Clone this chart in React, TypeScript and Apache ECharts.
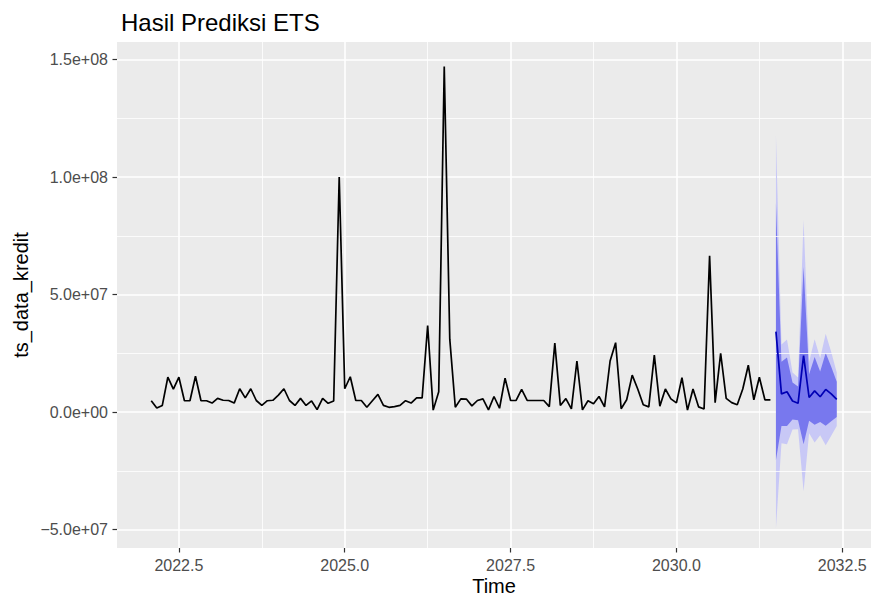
import React, { useEffect, useRef } from "react";
import * as echarts from "echarts";

// ---------- data ----------
const START_YEAR = 2022;
const START_MONTH = 2; // Feb 2022
const UNIT = 1e6; // values below are in millions

const histValues: number[] = [
  4.8, 1.7, 2.8, 14.8, 9.7, 14.8, 4.8, 4.8, 15.2, 4.8, 4.8, 3.8,
  5.8, 5.0, 4.9, 3.8, 9.9, 6.0, 9.9, 4.9, 2.8, 4.8, 5.0, 7.2,
  9.9, 4.9, 2.8, 5.8, 2.8, 4.7, 1.0, 5.8, 3.7, 4.7, 100.0, 9.9,
  15.0, 4.9, 4.9, 2.0, 4.8, 7.5, 2.8, 2.0, 2.3, 2.8, 4.8, 3.8,
  6.0, 6.0, 36.8, 0.8, 8.6, 147.0, 31.0, 2.0, 5.6, 5.5, 2.6, 4.9,
  5.6, 0.9, 6.6, 1.6, 14.4, 4.9, 4.9, 9.6, 4.9, 4.9, 4.9, 4.9,
  2.3, 29.3, 2.8, 5.7, 1.3, 21.7, 0.9, 4.8, 3.5, 6.6, 2.2, 21.7,
  29.5, 1.4, 5.2, 15.7, 9.8, 3.1, 2.2, 24.2, 2.5, 9.8, 5.6, 3.9,
  14.6, 0.8, 9.8, 2.2, 1.3, 66.5, 4.0, 25.0, 5.8, 4.0, 3.1, 9.8,
  19.9, 5.2, 14.8, 5.2, 5.2,
];

const fcMean: number[] = [34.2, 7.7, 8.6, 4.7, 3.7, 24.0, 6.2, 9.0, 6.5, 9.6, 7.7, 5.4];
const fcHi95: number[] = [117.9, 28.7, 30.9, 16.8, 14.7, 81.7, 21.4, 31.0, 22.9, 33.3, 25.5, 16.8];
const fcLo95: number[] = [-49.5, -13.3, -13.7, -7.4, -7.3, -33.7, -9.0, -13.0, -9.9, -14.1, -10.1, -6.0];
const fcHi80: number[] = [88.9, 21.4, 23.2, 12.6, 10.9, 61.7, 16.1, 23.4, 17.2, 25.1, 19.3, 12.9];
const fcLo80: number[] = [-20.5, -6.0, -6.0, -3.2, -3.5, -13.7, -3.7, -5.4, -4.2, -5.9, -3.9, -2.1];

const xTicks: number[] = [2022.5, 2025.0, 2027.5, 2030.0, 2032.5];
const xMinorTicks: number[] = [2023.75, 2026.25, 2028.75, 2031.25];
const yTicks: number[] = [-5e7, 0, 5e7, 1e8, 1.5e8];
const yMinorTicks: number[] = [-2.5e7, 2.5e7, 7.5e7, 1.25e8];

const TITLE = "Hasil Prediksi ETS";
const X_NAME = "Time";
const Y_NAME = "ts_data_kredit";

// ---------- helpers ----------
const monthTime = (i: number) => START_YEAR + (START_MONTH - 1 + i) / 12;
const histTimes = histValues.map((_, i) => monthTime(i));
const fcTimes = fcMean.map((_, j) => monthTime(histValues.length + j));

const sci = (v: number) => {
  if (v === 0) return "0.0e+00";
  const [m, e] = Math.abs(v).toExponential(1).split("e");
  const en = parseInt(e, 10);
  const es = (en < 0 ? "-" : "+") + String(Math.abs(en)).padStart(2, "0");
  return (v < 0 ? "\u2212" : "") + m + "e" + es;
};

const FONT = "'Liberation Sans', Arial, Helvetica, sans-serif";

function bandSeries(lo: number[], hi: number[], color: string, z: number) {
  return {
    type: "custom",
    z,
    silent: true,
    data: fcTimes.map((t, j) => [t, lo[j] * UNIT, hi[j] * UNIT]),
    renderItem: (params: any, api: any) => {
      if (params.dataIndex !== 0) return null;
      const top = fcTimes.map((t, j) => api.coord([t, hi[j] * UNIT]));
      const bot = fcTimes.map((t, j) => api.coord([t, lo[j] * UNIT])).reverse();
      return {
        type: "polygon",
        shape: { points: top.concat(bot) },
        style: { fill: color },
        silent: true,
      };
    },
  };
}

export default function App() {
  const ref = useRef<HTMLDivElement>(null);

  useEffect(() => {
    document.body.style.margin = "0";
    if (!ref.current) return;
    const chart = echarts.init(ref.current, null, { renderer: "svg" });

    const minorStyle = { color: "#FFFFFF", width: 0.8, type: "solid" };

    chart.setOption({
      animation: false,
      backgroundColor: "#FFFFFF",
      title: {
        text: TITLE,
        left: 116,
        top: 5,
        textStyle: { fontFamily: FONT, fontSize: 24, fontWeight: "normal", color: "#000000" },
      },
      grid: {
        left: 117,
        top: 42,
        right: 0,
        bottom: 49,
        show: true,
        backgroundColor: "#EBEBEB",
        borderWidth: 0,
        containLabel: false,
        outerBoundsMode: "none",
      },
      xAxis: {
        type: "value",
        min: 2021.567,
        max: 2032.933,
        position: "bottom",
        name: X_NAME,
        nameLocation: "middle",
        nameGap: 28,
        nameMoveOverlap: false,
        nameTextStyle: { fontFamily: FONT, fontSize: 20, lineHeight: 20, color: "#000000" },
        axisLine: { show: false, onZero: false },
        axisTick: {
          show: true,
          length: 4.5,
          customValues: xTicks,
          lineStyle: { color: "#333333", width: 1.2 },
        },
        axisLabel: {
          customValues: xTicks,
          margin: 9,
          fontFamily: FONT,
          fontSize: 16,
          color: "#4D4D4D",
          formatter: (v: number) => v.toFixed(1),
        },
        splitLine: { show: true, lineStyle: { color: "#FFFFFF", width: 1.6 } },
        minorSplitLine: { show: false },
      },
      yAxis: {
        type: "value",
        min: -57.87e6,
        max: 157.45e6,
        position: "left",
        name: Y_NAME,
        nameLocation: "middle",
        nameRotate: 90,
        nameGap: 86,
        nameMoveOverlap: false,
        nameTextStyle: { fontFamily: FONT, fontSize: 20, color: "#000000" },
        axisLine: { show: false, onZero: false },
        axisTick: {
          show: true,
          length: 4.5,
          customValues: yTicks,
          lineStyle: { color: "#333333", width: 1.2 },
        },
        axisLabel: {
          customValues: yTicks,
          margin: 9,
          fontFamily: FONT,
          fontSize: 16,
          color: "#4D4D4D",
          formatter: (v: number) => sci(v),
        },
        splitLine: { show: true, lineStyle: { color: "#FFFFFF", width: 1.6 } },
        minorSplitLine: { show: false },
      },
      series: [
        {
          type: "line",
          z: 1,
          silent: true,
          data: [],
          markLine: {
            silent: true,
            symbol: ["none", "none"],
            label: { show: false },
            emphasis: { disabled: true },
            lineStyle: minorStyle,
            data: [
              ...xMinorTicks.map((v) => ({ xAxis: v })),
              ...yMinorTicks.map((v) => ({ yAxis: v })),
            ],
          },
        },
        bandSeries(fcLo95, fcHi95, "#C8C8F6", 3),
        bandSeries(fcLo80, fcHi80, "#7878EE", 4),
        {
          type: "line",
          z: 5,
          silent: true,
          showSymbol: false,
          symbol: "none",
          data: histTimes.map((t, i) => [t, histValues[i] * UNIT]),
          lineStyle: { color: "#000000", width: 1.7 },
        },
        {
          type: "line",
          z: 6,
          silent: true,
          showSymbol: false,
          symbol: "none",
          data: fcTimes.map((t, j) => [t, fcMean[j] * UNIT]),
          lineStyle: { color: "#0000B4", width: 1.7 },
        },
      ],
    });

    return () => chart.dispose();
  }, []);

  return (
    <div
      ref={ref}
      style={{ position: "absolute", left: 0, top: 0, width: 871, height: 597 }}
    />
  );
}
